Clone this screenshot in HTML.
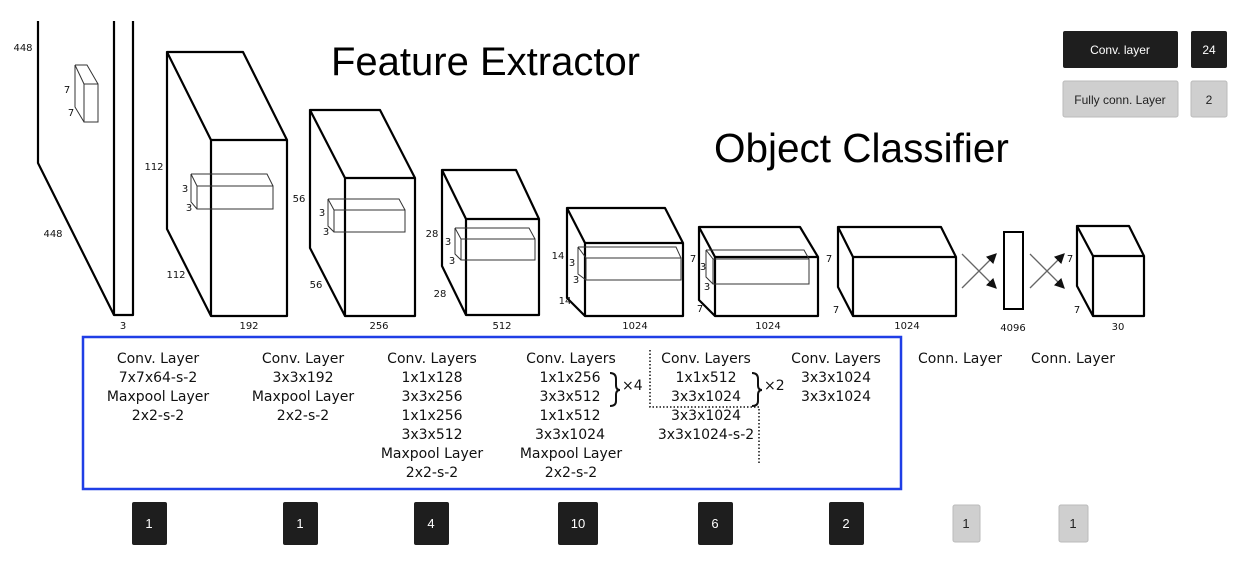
<!DOCTYPE html>
<html><head><meta charset="utf-8"><style>
html,body{margin:0;padding:0;background:#fff;}
svg{display:block;}
.t{font-family:"DejaVu Sans","Liberation Sans",sans-serif;font-size:14px;fill:#111;text-anchor:middle;}
.s{font-family:"DejaVu Sans","Liberation Sans",sans-serif;font-size:10px;fill:#111;text-anchor:middle;}
.b{fill:none;stroke:#000;stroke-width:2.2;stroke-linejoin:round;}
.i{fill:none;stroke:#333;stroke-width:1;}
</style></head><body>
<svg width="1246" height="568" viewBox="0 0 1246 568" xmlns="http://www.w3.org/2000/svg">
<defs><marker id="ar" markerWidth="8" markerHeight="8" refX="7" refY="4" orient="auto"><path d="M0,0 L8,4 L0,8 z" fill="#111"/></marker></defs>
<!-- titles -->
<text x="331" y="75" font-family="Liberation Sans,sans-serif" font-size="40" fill="#000">Feature Extractor</text>
<text x="714" y="162" font-family="Liberation Sans,sans-serif" font-size="40.5" fill="#000">Object Classifier</text>
<!-- legend -->
<rect x="1063" y="31" width="115" height="37" fill="#1e1e1e" rx="2"/>
<text x="1120" y="54" font-family="Liberation Sans,sans-serif" font-size="12" fill="#fff" text-anchor="middle">Conv. layer</text>
<rect x="1191" y="31" width="36" height="37" fill="#1e1e1e" rx="2"/>
<text x="1209" y="54" font-family="Liberation Sans,sans-serif" font-size="12" fill="#fff" text-anchor="middle">24</text>
<rect x="1063" y="81" width="115" height="36" fill="#cfcfcf" stroke="#bbb" rx="2"/>
<text x="1120" y="104" font-family="Liberation Sans,sans-serif" font-size="12" fill="#222" text-anchor="middle">Fully conn. Layer</text>
<rect x="1191" y="81" width="36" height="36" fill="#cfcfcf" stroke="#bbb" rx="2"/>
<text x="1209" y="104" font-family="Liberation Sans,sans-serif" font-size="12" fill="#222" text-anchor="middle">2</text>

<!-- box0 -->
<path class="b" d="M38,21 L38,163 L114,315"/>
<path class="b" d="M114,21 L114,315 L133,315 L133,21"/>
<path class="i" d="M84,84 L98,84 L98,122 L84,122 Z M75,65 L87,65 L98,84 M75,65 L84,84 M75,65 L75,107 L84,122"/>
<text class="s" x="23" y="51">448</text><text class="s" x="67" y="93">7</text><text class="s" x="71" y="116">7</text>
<text class="s" x="53" y="237">448</text><text class="s" x="123" y="329">3</text>
<!-- box1 -->
<path class="b" d="M167,52 L243,52 L287,140 L211,140 Z M211,140 L211,316 L287,316 L287,140 M167,52 L167,229 L211,316"/>
<path class="i" d="M197,186 L273,186 L273,209 L197,209 Z M191,174 L267,174 L273,186 M191,174 L197,186 M191,174 L191,202 L197,209"/>
<text class="s" x="154" y="170">112</text><text class="s" x="176" y="278">112</text><text class="s" x="249" y="329">192</text>
<text class="s" x="185" y="192">3</text><text class="s" x="189" y="211" fill="#a33">3</text>
<!-- box2 -->
<path class="b" d="M310,110 L380,110 L415,178 L345,178 Z M345,178 L345,316 L415,316 L415,178 M310,110 L310,248 L345,316"/>
<path class="i" d="M334,210 L405,210 L405,232 L334,232 Z M328,199 L399,199 L405,210 M328,199 L334,210 M328,199 L328,226 L334,232"/>
<text class="s" x="299" y="202">56</text><text class="s" x="316" y="288">56</text><text class="s" x="379" y="329">256</text>
<text class="s" x="322" y="216">3</text><text class="s" x="326" y="235">3</text>
<!-- box3 -->
<path class="b" d="M442,170 L516,170 L539,219 L466,219 Z M466,219 L466,315 L539,315 L539,219 M442,170 L442,266 L466,315"/>
<path class="i" d="M461,239 L535,239 L535,260 L461,260 Z M455,228 L529,228 L535,239 M455,228 L461,239 M455,228 L455,254 L461,260"/>
<text class="s" x="432" y="237">28</text><text class="s" x="440" y="297">28</text><text class="s" x="502" y="329">512</text>
<text class="s" x="448" y="245">3</text><text class="s" x="452" y="264">3</text>
<!-- box4 -->
<path class="b" d="M567,208 L665,208 L683,243 L585,243 Z M585,243 L585,316 L683,316 L683,243 M567,208 L567,298 L585,316"/>
<path class="i" d="M586,258 L681,258 L681,280 L586,280 Z M578,247 L676,247 L681,258 M578,247 L586,258 M578,247 L578,274 L586,280"/>
<text class="s" x="558" y="259">14</text><text class="s" x="565" y="304">14</text><text class="s" x="635" y="329">1024</text>
<text class="s" x="572" y="266">3</text><text class="s" x="576" y="283">3</text>
<!-- box5 -->
<path class="b" d="M699,227 L800,227 L818,257 L715,257 Z M715,257 L715,316 L818,316 L818,257 M699,227 L699,300 L715,316"/>
<path class="i" d="M713,259 L809,259 L809,284 L713,284 Z M706,250 L804,250 L809,259 M706,250 L713,259 M706,250 L706,277 L713,284"/>
<text class="s" x="693" y="262">7</text><text class="s" x="700" y="312">7</text><text class="s" x="768" y="329">1024</text>
<text class="s" x="703" y="270">3</text><text class="s" x="707" y="290">3</text>
<!-- box6 -->
<path class="b" d="M838,227 L941,227 L956,257 L853,257 Z M853,257 L853,316 L956,316 L956,257 M838,227 L838,287 L853,316"/>
<text class="s" x="829" y="262">7</text><text class="s" x="836" y="313">7</text><text class="s" x="907" y="329">1024</text>
<!-- crosses -->
<g stroke="#666" stroke-width="1.3">
<line x1="962" y1="288" x2="996" y2="254" marker-end="url(#ar)"/>
<line x1="962" y1="254" x2="996" y2="288" marker-end="url(#ar)"/>
<line x1="1030" y1="288" x2="1064" y2="254" marker-end="url(#ar)"/>
<line x1="1030" y1="254" x2="1064" y2="288" marker-end="url(#ar)"/>
</g>
<rect x="1004" y="232" width="19" height="77" fill="none" stroke="#000" stroke-width="2"/>
<text class="s" x="1013" y="331">4096</text>
<!-- box7 -->
<path class="b" d="M1077,226 L1129,226 L1144,256 L1093,256 Z M1093,256 L1093,316 L1144,316 L1144,256 M1077,226 L1077,286 L1093,316"/>
<text class="s" x="1070" y="262">7</text><text class="s" x="1077" y="313">7</text><text class="s" x="1118" y="330">30</text>

<!-- blue box -->
<rect x="83" y="337" width="818" height="152" fill="none" stroke="#1f3ee6" stroke-width="2.5"/>
<g class="t">
<text x="158" y="363">Conv. Layer</text><text x="158" y="382">7x7x64-s-2</text><text x="158" y="401">Maxpool Layer</text><text x="158" y="420">2x2-s-2</text>
<text x="303" y="363">Conv. Layer</text><text x="303" y="382">3x3x192</text><text x="303" y="401">Maxpool Layer</text><text x="303" y="420">2x2-s-2</text>
<text x="432" y="363">Conv. Layers</text><text x="432" y="382">1x1x128</text><text x="432" y="401">3x3x256</text><text x="432" y="420">1x1x256</text><text x="432" y="439">3x3x512</text><text x="432" y="458">Maxpool Layer</text><text x="432" y="477">2x2-s-2</text>
<text x="571" y="363">Conv. Layers</text><text x="570" y="382">1x1x256</text><text x="570" y="401">3x3x512</text><text x="570" y="420">1x1x512</text><text x="570" y="439">3x3x1024</text><text x="571" y="458">Maxpool Layer</text><text x="571" y="477">2x2-s-2</text>
<text x="706" y="363">Conv. Layers</text><text x="706" y="382">1x1x512</text><text x="706" y="401">3x3x1024</text><text x="706" y="420">3x3x1024</text><text x="706" y="439">3x3x1024-s-2</text>
<text x="836" y="363">Conv. Layers</text><text x="836" y="382">3x3x1024</text><text x="836" y="401">3x3x1024</text>
<text x="960" y="363">Conn. Layer</text><text x="1073" y="363">Conn. Layer</text>
</g>
<path d="M610,373 Q616,373 616,379 L616,385 Q616,390 620,390 Q616,390 616,395 L616,401 Q616,406 610,406" fill="none" stroke="#111" stroke-width="2"/>
<text x="622" y="390" class="t" style="text-anchor:start">×4</text>
<path d="M752,373 Q758,373 758,379 L758,385 Q758,390 762,390 Q758,390 758,395 L758,401 Q758,406 752,406" fill="none" stroke="#111" stroke-width="2"/>
<text x="764" y="390" class="t" style="text-anchor:start">×2</text>
<path d="M650,350 L650,407 L759,407 L759,463" fill="none" stroke="#111" stroke-width="1.5" stroke-dasharray="1.5,2"/>

<!-- bottom counters -->
<g font-family="Liberation Sans,sans-serif" font-size="13" text-anchor="middle">
<rect x="132" y="502" width="35" height="43" fill="#1e1e1e" rx="2"/><text x="149" y="528" fill="#fff">1</text>
<rect x="283" y="502" width="35" height="43" fill="#1e1e1e" rx="2"/><text x="300" y="528" fill="#fff">1</text>
<rect x="414" y="502" width="35" height="43" fill="#1e1e1e" rx="2"/><text x="431" y="528" fill="#fff">4</text>
<rect x="558" y="502" width="40" height="43" fill="#1e1e1e" rx="2"/><text x="578" y="528" fill="#fff">10</text>
<rect x="698" y="502" width="35" height="43" fill="#1e1e1e" rx="2"/><text x="715" y="528" fill="#fff">6</text>
<rect x="829" y="502" width="35" height="43" fill="#1e1e1e" rx="2"/><text x="846" y="528" fill="#fff">2</text>
<rect x="953" y="505" width="27" height="37" fill="#cfcfcf" stroke="#bbb" rx="2"/><text x="966" y="528" fill="#222">1</text>
<rect x="1059" y="505" width="29" height="37" fill="#cfcfcf" stroke="#bbb" rx="2"/><text x="1073" y="528" fill="#222">1</text>
</g>
</svg>
</body></html>
